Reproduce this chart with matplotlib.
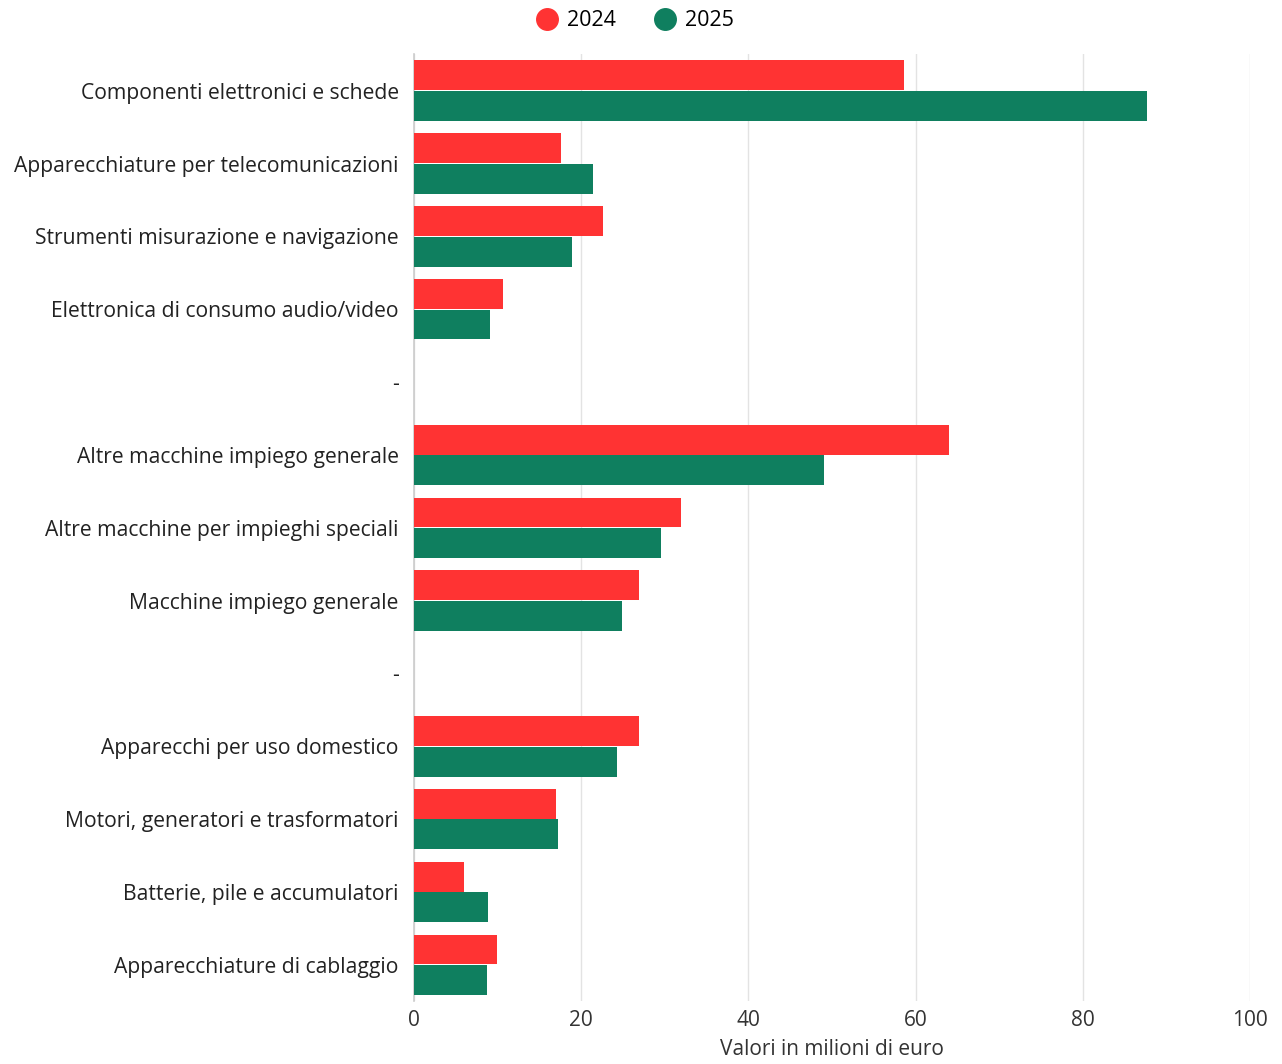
import matplotlib
matplotlib.use("Agg")
import matplotlib.pyplot as plt
import numpy as np
from matplotlib.lines import Line2D

plt.rcParams['font.family'] = ['Open Sans', 'DejaVu Sans']

categories = [
    "Componenti elettronici e schede",
    "Apparecchiature per telecomunicazioni",
    "Strumenti misurazione e navigazione",
    "Elettronica di consumo audio/video",
    "-",
    "Altre macchine impiego generale",
    "Altre macchine per impieghi speciali",
    "Macchine impiego generale",
    "-",
    "Apparecchi per uso domestico",
    "Motori, generatori e trasformatori",
    "Batterie, pile e accumulatori",
    "Apparecchiature di cablaggio",
]
values_2024 = [58.6, 17.6, 22.6, 10.6, np.nan, 64.0, 31.9, 26.9, np.nan, 26.9, 17.0, 6.0, 9.9]
values_2025 = [87.7, 21.4, 18.9, 9.1, np.nan, 49.0, 29.5, 24.9, np.nan, 24.3, 17.2, 8.9, 8.7]
series_names = ["2024", "2025"]
colors = ["#FF3333", "#0F7F5F"]
x_ticks = [0, 20, 40, 60, 80, 100]

fig = plt.figure(figsize=(12.82, 10.64), dpi=100)
ax = fig.add_axes([0.323, 0.059, 0.652, 0.890])

y = np.arange(len(categories))
h = 0.41
ax.barh(y - 0.21, values_2024, height=h, color=colors[0], zorder=3)
ax.barh(y + 0.21, values_2025, height=h, color=colors[1], zorder=3)

ax.set_ylim(len(categories) - 0.5, -0.5)
ax.set_xlim(0, 100)
ax.set_yticks(y)
ax.set_yticklabels(categories, fontsize=15.2, color="#222222")
ax.set_xticks(x_ticks)
ax.set_xticklabels([str(t) for t in x_ticks], fontsize=15, color="#333333")
ax.tick_params(axis='both', length=0)
ax.tick_params(axis='y', pad=11)
ax.tick_params(axis='x', pad=6)

ax.grid(axis='x', color="#e3e3e3", linewidth=1, zorder=0)
for s in ["top", "right", "bottom"]:
    ax.spines[s].set_visible(False)
ax.spines["left"].set_color("#cccccc")
ax.spines["left"].set_linewidth(1.2)

ax.set_xlabel("Valori in milioni di euro", fontsize=15, color="#333333", labelpad=6)

handles = [Line2D([0], [0], marker='o', linestyle='', markersize=15.5,
                  markerfacecolor=c, markeredgecolor=c) for c in colors]
fig.legend(handles, series_names, loc='center', bbox_to_anchor=(634 / 1282, 1 - 21 / 1064),
           ncol=2, frameon=False, fontsize=15.5, handletextpad=0.35, columnspacing=1.65,
           handlelength=1.2)

fig.savefig("out.png", dpi=100, facecolor="white")
